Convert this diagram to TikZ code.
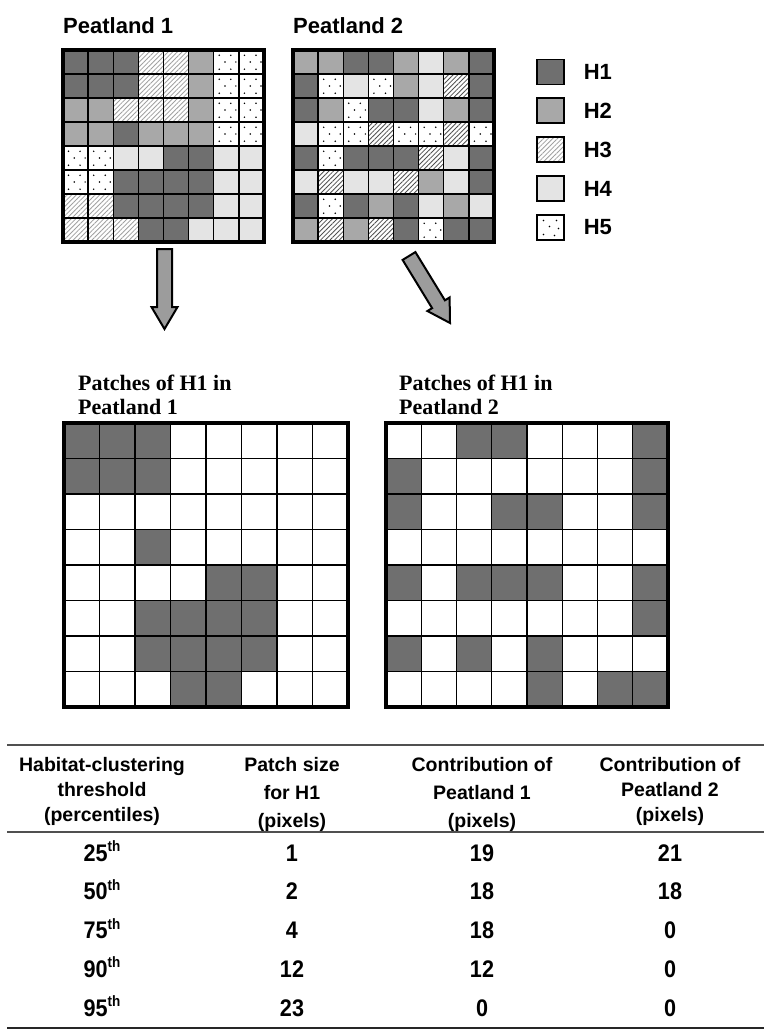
\documentclass[tikz,border=0pt]{standalone}
\usepackage{fontspec}
\setmainfont{Liberation Serif}
\setsansfont{Liberation Sans}
\newfontfamily\condsans[FakeStretch=0.9]{Liberation Sans}
\usetikzlibrary{calc,patterns.meta}

\definecolor{hone}{HTML}{6F6F6F}
\definecolor{htwo}{HTML}{A8A8A8}
\definecolor{hfour}{HTML}{E4E4E4}
\definecolor{hatchlight}{HTML}{A0A0A0}
\definecolor{hatchdark}{HTML}{505050}
\definecolor{arrowgray}{HTML}{9C9C9C}
\definecolor{rulegray}{HTML}{505050}

\newcommand\habcell[4]{% #1 col, #2 row, #3 type, #4 hatch colour
  \ifcase#3\or
    \fill[hone] (#1,#2) rectangle ++(1,1);
  \or
    \fill[htwo] (#1,#2) rectangle ++(1,1);
  \or
    \fill[white] (#1,#2) rectangle ++(1,1);
    \fill[pattern={Lines[angle=45,distance=3.3pt,line width=0.8pt]}, pattern color=#4] (#1,#2) rectangle ++(1,1);
  \or
    \fill[hfour] (#1,#2) rectangle ++(1,1);
  \or
    \fill[white] (#1,#2) rectangle ++(1,1);
    \foreach \dx/\dy in {0.22/0.22,0.68/0.22,0.45/0.5,0.88/0.5,0.22/0.8,0.68/0.8}
      {\fill[black] ($(#1,#2)+(\dx,\dy)$) circle[radius=0.85pt];}
  \fi}

\newcommand\gridlines[2]{% #1 inner width, #2 outer width
  \foreach \i in {1,...,7} {
    \draw[line width=#1] (\i,0) -- (\i,8);
    \draw[line width=#1] (0,\i) -- (8,\i);
  }
  \draw[line width=#2] (0,0) rectangle (8,8);}

\newcommand\blockarrow[2]{% #1 start, #2 tip
  \coordinate (#1b) at ($(#2)!22pt!(#1)$);
  \draw[blk] ($(#1)!7.5pt!90:(#2)$) -- ($(#1b)!7.5pt!-90:(#1)$) -- ($(#1b)!13pt!-90:(#1)$)
    -- (#2) -- ($(#1b)!13pt!90:(#1)$) -- ($(#1b)!7.5pt!90:(#1)$) -- ($(#1)!7.5pt!-90:(#2)$) -- cycle;}

\newcommand\ordth{\raisebox{9.5pt}{\fontsize{15}{15}\selectfont th}}

\begin{document}
\begin{tikzpicture}[x=1pt,y=-1pt,
  lbl/.style={font=\sffamily\bfseries\fontsize{22}{26}\selectfont, inner sep=0pt},
  ttl/.style={font=\rmfamily\bfseries\fontsize{22}{25}\selectfont, inner sep=0pt, anchor=base west},
  hdr/.style={font=\sffamily\bfseries\fontsize{19.5}{23}\selectfont, inner sep=0pt, anchor=base},
  num/.style={font=\condsans\bfseries\fontsize{24}{28}\selectfont, inner sep=0pt, anchor=base},
  blk/.style={fill=arrowgray, draw=black, line width=2pt, line join=miter},
  legbox/.style={draw=black, line width=1.3pt, minimum width=27pt, minimum height=25pt, inner sep=0pt},
  trule/.style={draw=rulegray, line width=2pt}]

\useasboundingbox (0,0) rectangle (764,1032);
\fill[white] (0,0) rectangle (764,1032);

% ---- top titles
\node[lbl, anchor=base west] (t1) at (63,34) {Peatland 1};
\node[lbl, anchor=base west] (t2) at (293,34) {Peatland 2};

% ---- Peatland 1 habitat grid
\begin{scope}[shift={(63,50)}, x=25.125pt, y=-24pt]
  \foreach \row [count=\r from 0] in {
    {1,1,1,3,3,2,5,5},
    {1,1,1,3,3,2,5,5},
    {2,2,3,3,3,2,5,5},
    {2,2,1,2,2,2,5,5},
    {5,5,4,4,1,1,4,4},
    {5,5,1,1,1,1,4,4},
    {3,3,1,1,1,1,4,4},
    {3,3,3,1,1,4,4,4}}
  { \foreach \c [count=\k from 0] in \row { \habcell{\k}{\r}{\c}{hatchlight} } }
  \gridlines{1.3pt}{4pt}
\end{scope}

% ---- Peatland 2 habitat grid
\begin{scope}[shift={(293,50)}, x=25.125pt, y=-24pt]
  \foreach \row [count=\r from 0] in {
    {2,2,1,1,2,4,2,1},
    {1,5,4,5,2,4,3,1},
    {1,2,5,1,1,4,2,1},
    {4,5,5,3,5,5,3,5},
    {1,5,1,1,1,3,4,1},
    {4,3,4,4,3,2,4,1},
    {1,5,1,2,1,4,2,4},
    {2,3,2,3,1,5,1,1}}
  { \foreach \c [count=\k from 0] in \row { \habcell{\k}{\r}{\c}{hatchdark} } }
  \gridlines{1.3pt}{4pt}
\end{scope}

% ---- legend
\node[legbox, fill=hone] (l1) at (550.5,72) {};
\node[legbox, fill=htwo] (l2) at (550.5,110.5) {};
\node[legbox, pattern={Lines[angle=45,distance=3.3pt,line width=0.8pt]}, pattern color=hatchlight] (l3) at (550.5,149.5) {};
\node[legbox, fill=hfour] (l4) at (550.5,188.5) {};
\node[legbox, fill=white] (l5) at (550.5,227.5) {};
\foreach \dx/\dy in {-7/-7,6/-7,-1/-1,8/1,-7/7,4/8}
  {\fill[black] ($(l5)+(\dx,\dy)$) circle[radius=0.85pt];}
\foreach \i in {1,...,5}
  {\node[lbl, anchor=west] (h\i) at ($(l\i.east)+(19,0)$) {H\i};}

% ---- arrows
\coordinate (as) at (164.5,249);
\coordinate (ae) at (164.5,329);
\coordinate (bs) at (409,256);
\coordinate (be) at (450,323);
\blockarrow{as}{ae}
\blockarrow{bs}{be}

% ---- middle titles
\node[ttl] (m1a) at (78,390) {Patches of H1 in};
\node[ttl] (m1b) at (78,414) {Peatland 1};
\node[ttl] (m2a) at (399,390) {Patches of H1 in};
\node[ttl] (m2b) at (399,414) {Peatland 2};

% ---- H1 patches, Peatland 1
\begin{scope}[shift={(64,423)}, x=35.5pt, y=-35.5pt]
  \foreach \row [count=\r from 0] in {
    {1,1,1,0,0,0,0,0},
    {1,1,1,0,0,0,0,0},
    {0,0,0,0,0,0,0,0},
    {0,0,1,0,0,0,0,0},
    {0,0,0,0,1,1,0,0},
    {0,0,1,1,1,1,0,0},
    {0,0,1,1,1,1,0,0},
    {0,0,0,1,1,0,0,0}}
  { \foreach \c [count=\k from 0] in \row { \habcell{\k}{\r}{\c}{hatchdark} } }
  \gridlines{1.3pt}{3.5pt}
\end{scope}

% ---- H1 patches, Peatland 2
\begin{scope}[shift={(386,423)}, x=35.25pt, y=-35.5pt]
  \foreach \row [count=\r from 0] in {
    {0,0,1,1,0,0,0,1},
    {1,0,0,0,0,0,0,1},
    {1,0,0,1,1,0,0,1},
    {0,0,0,0,0,0,0,0},
    {1,0,1,1,1,0,0,1},
    {0,0,0,0,0,0,0,1},
    {1,0,1,0,1,0,0,0},
    {0,0,0,0,1,0,1,1}}
  { \foreach \c [count=\k from 0] in \row { \habcell{\k}{\r}{\c}{hatchdark} } }
  \gridlines{1.3pt}{3.5pt}
\end{scope}

% ---- table
\draw[trule] (7,745) -- (764,745);
\draw[trule] (7,832) -- (764,832);
\draw[draw=black!85, line width=2.6pt] (7,1028) -- (764,1028);

\node[hdr] (c1a) at (102,771) {Habitat-clustering};
\node[hdr] (c1b) at (102,796) {threshold};
\node[hdr] (c1c) at (102,821) {(percentiles)};
\node[hdr] (c2a) at (292,771) {Patch size};
\node[hdr] (c2b) at (292,799) {for H1};
\node[hdr] (c2c) at (292,827) {(pixels)};
\node[hdr] (c3a) at (482,771) {Contribution of};
\node[hdr] (c3b) at (482,799) {Peatland 1};
\node[hdr] (c3c) at (482,827) {(pixels)};
\node[hdr] (c4a) at (670,771) {Contribution of};
\node[hdr] (c4b) at (670,796) {Peatland 2};
\node[hdr] (c4c) at (670,821) {(pixels)};

\foreach \p/\s/\a/\b [count=\n] in {25/1/19/21, 50/2/18/18, 75/4/18/0, 90/12/12/0, 95/23/0/0} {
  \pgfmathsetmacro\yb{861+38.75*(\n-1)}
  \node[num] (p\n) at (102,\yb) {\p\ordth};
  \node[num] (s\n) at (292,\yb) {\s};
  \node[num] (a\n) at (482,\yb) {\a};
  \node[num] (b\n) at (670,\yb) {\b};
}
\end{tikzpicture}
\end{document}
